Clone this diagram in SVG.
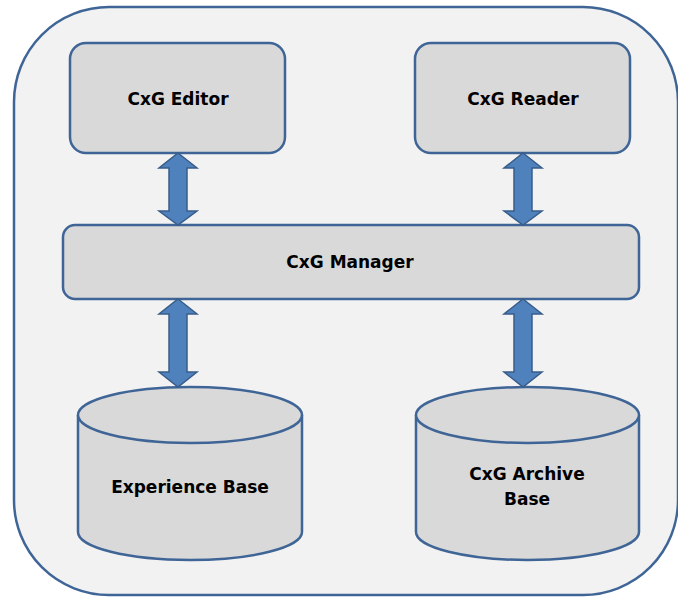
<svg xmlns="http://www.w3.org/2000/svg" width="678" height="597" viewBox="0 0 678 597">
<style>
.box{fill:#d9d9d9;stroke:#3f6597;stroke-width:2.5}
.arrow{fill:#4f81bd;stroke:#385d8a;stroke-width:1.5;stroke-linejoin:miter}
.lbl{font-family:"DejaVu Sans",Verdana,sans-serif;font-weight:bold;font-size:17px;fill:#000;text-anchor:middle}
</style>
<rect x="14" y="7" width="664" height="588" rx="95" ry="95" fill="#f2f2f2" stroke="#3f6597" stroke-width="2.5"/>
<g id="editor">
<rect class="box" x="70" y="43" width="215" height="110" rx="16"/>
<text class="lbl" x="178" y="105">CxG Editor</text>
</g>
<g id="reader">
<rect class="box" x="415" y="43" width="215" height="110" rx="16"/>
<text class="lbl" x="523" y="105">CxG Reader</text>
</g>
<g id="manager">
<rect class="box" x="63" y="225" width="576" height="74" rx="12"/>
<text class="lbl" x="350" y="268">CxG Manager</text>
</g>
<g id="experience">
<path class="box" d="M78,415 L78,532 A112,28 0 0 0 302,532 L302,415"/>
<ellipse class="box" cx="190" cy="415" rx="112" ry="28"/>
<text class="lbl" x="190" y="493">Experience Base</text>
</g>
<g id="archive">
<path class="box" d="M416,415 L416,532 A111.5,28 0 0 0 639,532 L639,415"/>
<ellipse class="box" cx="527.5" cy="415" rx="111.5" ry="28"/>
<text class="lbl" x="527" y="480">CxG Archive</text>
<text class="lbl" x="527" y="505">Base</text>
</g>
<g id="connectors">
<path class="arrow" d="M178,153 L197,168 L187,168 L187,211 L197,211 L178,225 L159,211 L169,211 L169,168 L159,168 Z"/>
<path class="arrow" d="M523,153 L542,168 L532,168 L532,211 L542,211 L523,225 L504,211 L514,211 L514,168 L504,168 Z"/>
<path class="arrow" d="M178,299 L197,314 L187,314 L187,372 L197,372 L178,387 L159,372 L169,372 L169,314 L159,314 Z"/>
<path class="arrow" d="M523,299 L542,314 L532,314 L532,372 L542,372 L523,387 L504,372 L514,372 L514,314 L504,314 Z"/>
</g>
</svg>
